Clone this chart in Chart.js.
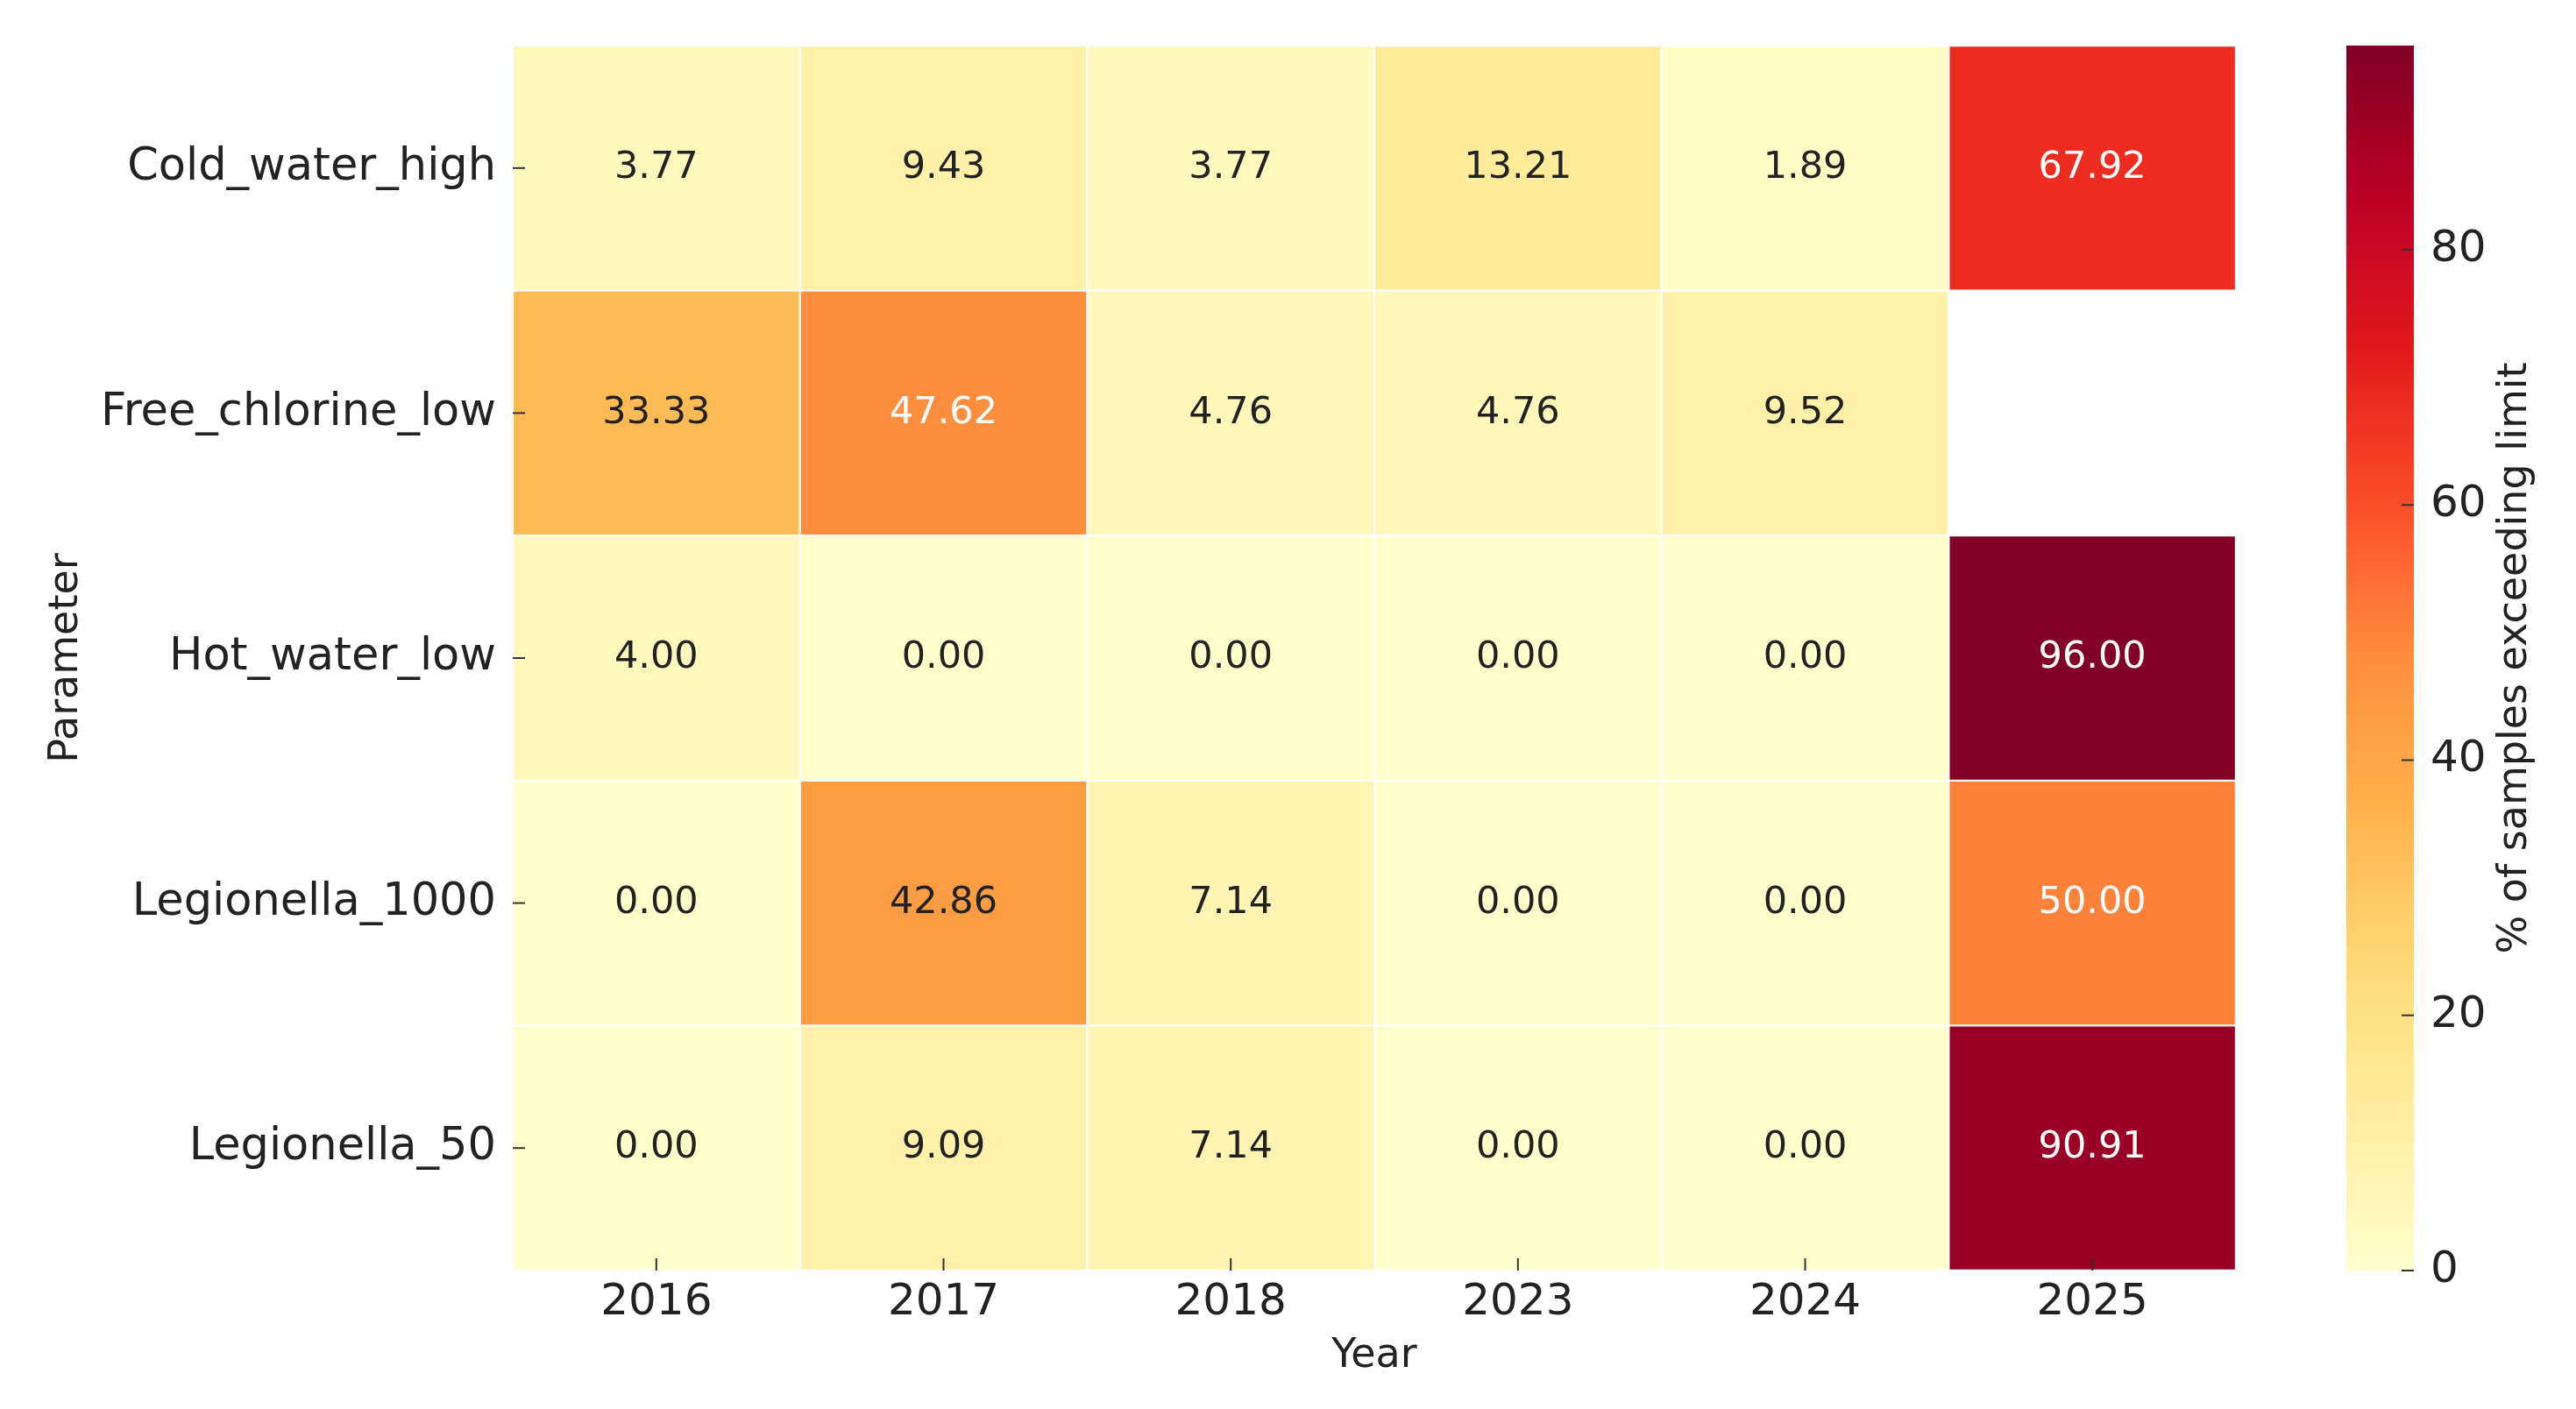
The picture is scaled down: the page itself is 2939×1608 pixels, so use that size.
<!DOCTYPE html>
<html>
<head>
<meta charset="utf-8">
<script src="https://cdn.jsdelivr.net/npm/chart.js@4.4.0/dist/chart.umd.min.js"></script>
<style>
html, body { margin: 0; padding: 0; background: #fff; }
#wrap { position: relative; width: 2939px; height: 1608px; }
#heat { position: absolute; left: 0; top: 0; width: 2620px; height: 1608px; }
#bar { position: absolute; left: 2620px; top: 0; width: 319px; height: 1608px; }
</style>
</head>
<body>
<div id="wrap">
  <canvas id="heat" width="2620" height="1608"></canvas>
  <canvas id="bar" width="319" height="1608"></canvas>
</div>
<script>
// données du graphique
var years = ['2016', '2017', '2018', '2023', '2024', '2025'];
var params = ['Cold_water_high', 'Free_chlorine_low', 'Hot_water_low', 'Legionella_1000', 'Legionella_50'];
var coldWaterHigh = [3.77, 9.43, 3.77, 13.21, 1.89, 67.92];
var freeChlorineLow = [33.33, 47.62, 4.76, 4.76, 9.52, null];
var hotWaterLow = [4.00, 0.00, 0.00, 0.00, 0.00, 96.00];
var legionella1000 = [0.00, 42.86, 7.14, 0.00, 0.00, 50.00];
var legionella50 = [0.00, 9.09, 7.14, 0.00, 0.00, 90.91];
var colorTicks = [0, 20, 40, 60, 80];
var colorMax = 96;

var rows = [coldWaterHigh, freeChlorineLow, hotWaterLow, legionella1000, legionella50];

// palette YlOrRd
var ylOrRd = ['#ffffcc', '#ffeda0', '#fed976', '#feb24c', '#fd8d3c', '#fc4e2a', '#e31a1c', '#bd0026', '#800026'];

function hexToRgb(h) {
    return [parseInt(h.substr(1, 2), 16), parseInt(h.substr(3, 2), 16), parseInt(h.substr(5, 2), 16)];
}

function cmapRgb(v) {
    var t = Math.max(0, Math.min(1, v / colorMax)) * (ylOrRd.length - 1);
    var i = Math.min(Math.floor(t), ylOrRd.length - 2);
    var f = t - i;
    var a = hexToRgb(ylOrRd[i]), b = hexToRgb(ylOrRd[i + 1]);
    return [0, 1, 2].map(function (k) { return Math.round(a[k] + (b[k] - a[k]) * f); });
}

function cmap(v) {
    var c = cmapRgb(v);
    return 'rgb(' + c[0] + ',' + c[1] + ',' + c[2] + ')';
}

// même règle que seaborn pour la couleur du texte
function textColor(v) {
    var c = cmapRgb(v).map(function (x) {
        x = x / 255;
        return x <= 0.03928 ? x / 12.92 : Math.pow((x + 0.055) / 1.055, 2.4);
    });
    var lum = 0.2126 * c[0] + 0.7152 * c[1] + 0.0722 * c[2];
    return lum > 0.408 ? '#222222' : '#ffffff';
}

Chart.defaults.font.family = 'DejaVu Sans';
Chart.defaults.color = '#222222';

var nRows = params.length;
var datasets = rows.map(function (row, i) {
    return {
        label: params[i],
        data: row.map(function (v) { return v === null ? null : [nRows - 1 - i, nRows - i]; }),
        backgroundColor: row.map(function (v) { return v === null ? 'rgba(0,0,0,0)' : cmap(v); }),
        borderColor: '#ffffff',
        borderWidth: 1.5,
        borderSkipped: false,
        grouped: false,
        barPercentage: 1,
        categoryPercentage: 1
    };
});

// valeurs dans les cellules
var annotPlugin = {
    id: 'annot',
    afterDatasetsDraw: function (chart) {
        var ctx = chart.ctx;
        var xs = chart.scales.x, ys = chart.scales.y;
        ctx.save();
        ctx.font = '43px "DejaVu Sans"';
        ctx.textAlign = 'center';
        ctx.textBaseline = 'middle';
        rows.forEach(function (row, i) {
            row.forEach(function (v, j) {
                if (v === null) return;
                ctx.fillStyle = textColor(v);
                ctx.fillText(v.toFixed(2), xs.getPixelForValue(j), ys.getPixelForValue(nRows - 0.5 - i));
            });
        });
        // petits traits de graduation vers l'intérieur
        var a = chart.chartArea;
        ctx.strokeStyle = '#333333';
        ctx.lineWidth = 2;
        params.forEach(function (p, i) {
            var y = ys.getPixelForValue(nRows - 0.5 - i);
            ctx.beginPath();
            ctx.moveTo(a.left, y);
            ctx.lineTo(a.left + 14, y);
            ctx.stroke();
        });
        years.forEach(function (yr, j) {
            var x = xs.getPixelForValue(j);
            ctx.beginPath();
            ctx.moveTo(x, a.bottom);
            ctx.lineTo(x, a.bottom - 14);
            ctx.stroke();
        });
        ctx.restore();
    }
};

new Chart(document.getElementById('heat').getContext('2d'), {
    type: 'bar',
    data: { labels: years, datasets: datasets },
    options: {
        responsive: false,
        devicePixelRatio: 1,
        animation: false,
        layout: { padding: { left: 0, top: 52, right: 69, bottom: 0 } },
        plugins: { legend: { display: false }, tooltip: { enabled: false } },
        scales: {
            x: {
                grid: { display: false, drawTicks: false },
                border: { display: false },
                ticks: { font: { size: 50 }, color: '#222222', padding: 7 },
                title: { display: true, text: 'Year', font: { size: 46 }, color: '#222222', padding: { top: 32, bottom: 32 } },
                afterFit: function (s) { s.height = 158; }
            },
            y: {
                min: 0,
                max: nRows,
                grid: { display: false, drawTicks: false },
                border: { display: false },
                afterBuildTicks: function (s) {
                    s.ticks = params.map(function (p, i) { return { value: nRows - 0.5 - i }; });
                },
                ticks: {
                    font: { size: 51 },
                    color: '#222222',
                    padding: 19,
                    autoSkip: false,
                    callback: function (value) {
                        var i = Math.round(nRows - 0.5 - value);
                        return params[i];
                    }
                },
                title: { display: true, text: 'Parameter', font: { size: 46 }, color: '#222222', padding: { top: 48, bottom: 48 } },
                afterFit: function (s) { s.width = 585; }
            }
        }
    },
    plugins: [annotPlugin]
});

// barre de couleur
var cbPlugin = {
    id: 'cbTitle',
    afterDatasetsDraw: function (chart) {
        var ctx = chart.ctx;
        var a = chart.chartArea;
        var ys = chart.scales.y;
        ctx.save();
        ctx.strokeStyle = '#333333';
        ctx.lineWidth = 2;
        colorTicks.forEach(function (t) {
            var y = ys.getPixelForValue(t);
            ctx.beginPath();
            ctx.moveTo(a.right - 14, y);
            ctx.lineTo(a.right, y);
            ctx.stroke();
        });
        ctx.translate(250, (a.top + a.bottom) / 2);
        ctx.rotate(-Math.PI / 2);
        ctx.font = '46px "DejaVu Sans"';
        ctx.fillStyle = '#222222';
        ctx.textAlign = 'center';
        ctx.textBaseline = 'middle';
        ctx.fillText('% of samples exceeding limit', 0, 0);
        ctx.restore();
    }
};

new Chart(document.getElementById('bar').getContext('2d'), {
    type: 'bar',
    data: {
        labels: [''],
        datasets: [{
            data: [[0, colorMax]],
            backgroundColor: function (c) {
                var a = c.chart.chartArea;
                if (!a) return ylOrRd[0];
                var g = c.chart.ctx.createLinearGradient(0, a.bottom, 0, a.top);
                ylOrRd.forEach(function (col, i) { g.addColorStop(i / (ylOrRd.length - 1), col); });
                return g;
            },
            borderWidth: 0,
            barPercentage: 1,
            categoryPercentage: 1
        }]
    },
    options: {
        responsive: false,
        devicePixelRatio: 1,
        animation: false,
        layout: { padding: { left: 57, top: 52, right: 0, bottom: 158 } },
        plugins: { legend: { display: false }, tooltip: { enabled: false } },
        scales: {
            x: { display: false },
            y: {
                position: 'right',
                min: 0,
                max: colorMax,
                grid: { display: false, drawTicks: false },
                border: { display: false },
                afterBuildTicks: function (s) {
                    s.ticks = colorTicks.map(function (t) { return { value: t }; });
                },
                ticks: { font: { size: 50 }, color: '#222222', padding: 19 },
                afterFit: function (s) { s.width = 185; }
            }
        }
    },
    plugins: [cbPlugin]
});
</script>
</body>
</html>
